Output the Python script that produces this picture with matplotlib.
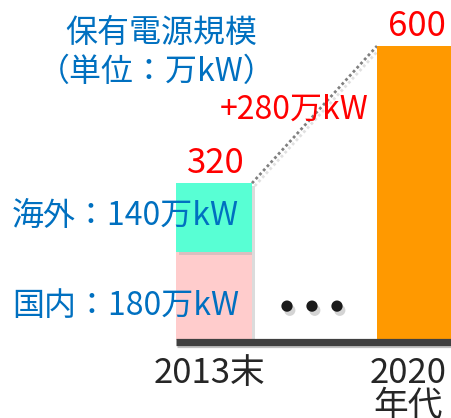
import matplotlib.pyplot as plt
import matplotlib.patheffects as pe

plt.rcParams['font.family'] = ['Noto Sans CJK JP', 'DejaVu Sans']

# 値（万kW）
categories = ['2013末', '2020\n年代']
domestic = [180, 0]
overseas = [140, 0]
future = [0, 600]
totals = ['320', '600']
increase = '+280万kW'

blue = '#0070C0'
red = '#FF0000'

fig = plt.figure(figsize=(4.52, 4.18), dpi=100)
ax = fig.add_axes([0, 0, 1, 1])
ax.set_xlim(0, 452)
s = 0.49  # px per unit
ax.set_ylim(-78 / s, 340 / s)
ax.axis('off')

xs = [214, 414.5]
w = [76, 75]
shadow = [pe.SimplePatchShadow(offset=(2.5, -2), shadow_rgbFace='#b0b0b0', alpha=0.45), pe.Normal()]

b1 = ax.bar(xs[0], domestic[0], width=w[0], color='#FFCCCC', zorder=3)
b2 = ax.bar(xs[0], overseas[0], bottom=domestic[0], width=w[0], color='#58FFD4', zorder=3)
b3 = ax.bar(xs[1], future[1], width=w[1], color='#FF9900', zorder=3)
for b in (b1, b2):
    for p in b:
        p.set_path_effects(shadow)

# 基線
ax.plot([xs[0] - w[0] / 2, 452], [-4.5, -4.5], color='#404040', lw=5.2,
        solid_capstyle='butt', zorder=4,
        path_effects=[pe.SimpleLineShadow(offset=(1, -1.5), shadow_color='#999999', alpha=0.6), pe.Normal()])

# 点線
top1 = domestic[0] + overseas[0]
ax.plot([xs[0] + w[0] / 2, xs[1] - w[1] / 2], [top1, future[1]], color='#808080',
        lw=2, ls=(0, (1, 1)), zorder=2,
        path_effects=[pe.SimpleLineShadow(offset=(2, -2), shadow_color='#cccccc', alpha=0.6), pe.Normal()])

ax.text(161, 340 / s - 33 / s, '保有電源規模', color=blue, fontsize=23, ha='center', va='center')
ax.text(157, 340 / s - 72 / s, '（単位：万kW）', color=blue, fontsize=23, ha='center', va='center')

ax.text(xs[1] + 2, future[1] + 20 / s, totals[1], color=red, fontsize=25, ha='center', va='center')
ax.text(xs[0] + 2, top1 + 20 / s, totals[0], color=red, fontsize=25, ha='center', va='center')
ax.text(294, 340 / s - 110 / s, increase, color=red, fontsize=23, ha='center', va='center')

ax.text(12, domestic[0] + overseas[0] * 0.52, '海外：140万kW', color=blue, fontsize=23, ha='left', va='center', zorder=5)
ax.text(12, domestic[0] * 0.38, '国内：180万kW', color=blue, fontsize=23, ha='left', va='center', zorder=5)

for dx in (287, 312, 337):
    ax.text(dx, domestic[0] * 0.37, '●', color='#1a1a1a', fontsize=9, ha='center', va='center',
            path_effects=[pe.withSimplePatchShadow(offset=(2, -3), shadow_rgbFace='#aaaaaa', alpha=0.5)])

ax.text(xs[0] - 4, -34 / s, categories[0], color='#262626', fontsize=25, ha='center', va='center')
ax.text(xs[1] - 6, -50 / s, categories[1], color='#262626', fontsize=25, ha='center', va='center',
        linespacing=0.9)

fig.savefig('out.png', dpi=100)
